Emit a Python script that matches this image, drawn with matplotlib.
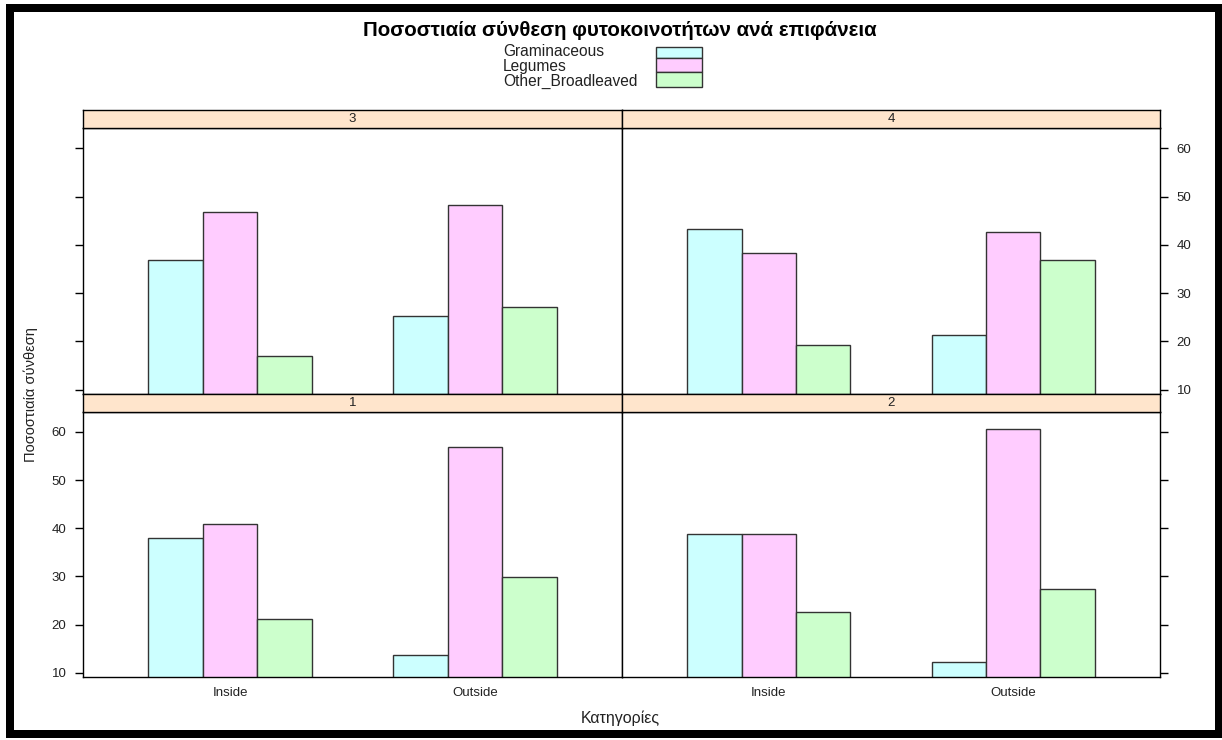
import numpy as np
import matplotlib
matplotlib.use("Agg")
import matplotlib.pyplot as plt
from matplotlib.patches import Rectangle

plt.rcParams['font.family'] = ['Liberation Sans', 'DejaVu Sans']

# Data
categories = ["Inside", "Outside"]
series = ["Graminaceous", "Legumes", "Other_Broadleaved"]
panels = ["1", "2", "3", "4"]
graminaceous = {"1": [38.0, 13.7], "2": [38.7, 12.2], "3": [36.8, 25.3], "4": [43.2, 21.3]}
legumes = {"1": [40.9, 56.8], "2": [38.7, 60.6], "3": [46.8, 48.3], "4": [38.4, 42.7]}
other_broadleaved = {"1": [21.1, 29.8], "2": [22.7, 27.3], "3": [16.9, 27.2], "4": [19.2, 36.8]}
y_ticks = [10, 20, 30, 40, 50, 60]

title = "Ποσοστιαία σύνθεση φυτοκοινοτήτων ανά επιφάνεια"
ylabel = "Ποσοστιαία σύνθεση"
xlabel = "Κατηγορίες"

colors = ["#CCFFFF", "#FFCCFF", "#CCFFCC"]
strip_color = "#FFE5CC"
edge = "#333333"
label_color = "#222222"

W, H = 1222, 740
fig = plt.figure(figsize=(W / 100, H / 100), dpi=100)
fig.patch.set_facecolor("white")

# Thick black frame round the whole figure
fig.patches.append(Rectangle((6 / W, 1 - 738 / H), (1222 - 6) / W, (738 - 4) / H,
                             transform=fig.transFigure, facecolor="black", zorder=-3))
fig.patches.append(Rectangle((14 / W, 1 - 730 / H), (1215 - 14) / W, (730 - 12) / H,
                             transform=fig.transFigure, facecolor="white", zorder=-2))


def box(x0, y0, x1, y1):
    return [x0 / W, 1 - y1 / H, (x1 - x0) / W, (y1 - y0) / H]


cols = [(83, 622), (622, 1160)]
rows = {"top": (110, 128, 394), "bottom": (394, 411.7, 677)}
layout = {"3": ("top", 0), "4": ("top", 1), "1": ("bottom", 0), "2": ("bottom", 1)}

ylim = (9.1, 64.2)
xlim = (0.4, 2.6)
bw = 2 / 9
x = np.arange(len(categories)) + 1
data = [graminaceous, legumes, other_broadleaved]

for p in panels:
    row, c = layout[p]
    s0, p0, p1 = rows[row]
    x0, x1 = cols[c]
    # strip
    sax = fig.add_axes(box(x0, s0, x1, p0))
    sax.set_zorder(2)
    sax.set_facecolor(strip_color)
    sax.set_xticks([]); sax.set_yticks([])
    for sp in sax.spines.values():
        sp.set_linewidth(1.0)
    sax.text(0.5, 0.5, p, ha="center", va="center", fontsize=9.5, color=label_color,
             transform=sax.transAxes)
    # panel
    ax = fig.add_axes(box(x0, p0, x1, p1))
    ax.set_zorder(1)
    for i, d in enumerate(data):
        ax.bar(x + (i - 1) * bw, d[p], width=bw, color=colors[i], edgecolor=edge,
               linewidth=1.0, zorder=2)
    ax.set_xlim(*xlim)
    ax.set_ylim(*ylim)
    for sp in ax.spines.values():
        sp.set_linewidth(1.0)
        sp.set_zorder(3)
    ax.set_yticks(y_ticks)
    ax.tick_params(axis="y", length=6, width=1, labelsize=9.5, pad=6,
                   labelcolor=label_color)
    if c == 0:
        ax.yaxis.tick_left()
        if row == "top":
            ax.set_yticklabels([])
    else:
        ax.yaxis.tick_right()
        if row == "bottom":
            ax.set_yticklabels([])
    if row == "bottom":
        ax.set_xticks(x)
        ax.set_xticklabels(categories, fontsize=9.5, color=label_color)
        ax.tick_params(axis="x", length=0, pad=7)
    else:
        ax.set_xticks([])

# Title and legend
fig.text(620 / W, 1 - 30 / H, title, ha="center", va="center", fontsize=14.8, fontweight="bold")
legend_rows = [(47, 57.5), (57.5, 72), (72, 86.5)]
text_y = [51.5, 66.5, 81.5]
for name, col, (b0, b1), ty in zip(series, colors, legend_rows, text_y):
    fig.text(503 / W, 1 - ty / H, name, ha="left", va="center", fontsize=11.2,
             color=label_color)
    fig.patches.append(Rectangle((656 / W, 1 - b1 / H), (702 - 656) / W, (b1 - b0) / H,
                                 transform=fig.transFigure, facecolor=col, edgecolor=edge,
                                 linewidth=1.0, zorder=2))

fig.text(620 / W, 1 - 718 / H, xlabel, ha="center", va="center", fontsize=11.5,
         color=label_color)
fig.text(31 / W, 1 - 395 / H, ylabel, ha="center", va="center", rotation=90, fontsize=10.5,
         color=label_color)

fig.savefig("out.png", dpi=100)
